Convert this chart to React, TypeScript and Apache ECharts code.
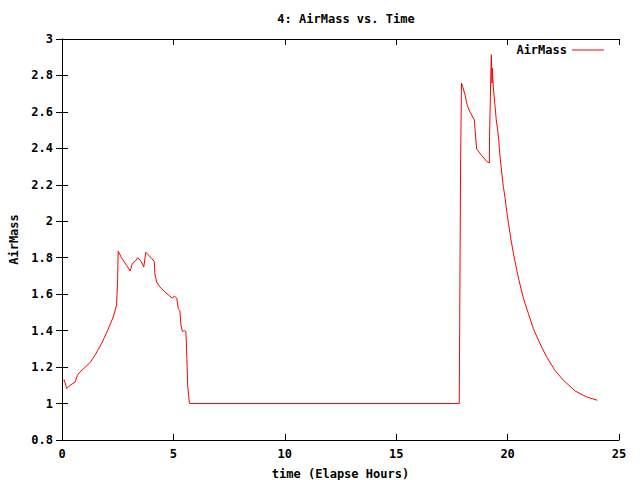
import React, { useEffect, useRef } from "react";
import * as echarts from "echarts";

const times: number[] = [
  0.06, 0.1, 0.21, 0.36, 0.59, 0.69, 0.74, 1.26, 1.48, 1.78, 2.08, 2.3, 2.45, 2.5, 2.52,
  2.67, 2.9, 3.06, 3.16, 3.28, 3.4, 3.55, 3.67, 3.76, 3.88, 4.03, 4.14, 4.17, 4.25, 4.4,
  4.62, 4.84, 4.95, 5.04, 5.15, 5.22, 5.29, 5.34, 5.4, 5.49, 5.56, 5.6, 5.64, 5.72,
  17.83, 17.85, 17.89, 17.93, 17.98, 18.09, 18.19, 18.31, 18.51, 18.54, 18.61, 18.84, 19.06,
  19.18, 19.19, 19.24, 19.27, 19.3, 19.31, 19.36, 19.4, 19.45, 19.49, 19.55, 19.6, 19.66,
  19.74, 19.81, 19.89, 19.96, 20.04, 20.14, 20.26, 20.41, 20.56, 20.71, 20.93, 21.15, 21.45,
  21.75, 22.12, 22.5, 23.03, 23.55, 24.03,
];

const airMass: number[] = [
  1.126, 1.13, 1.082, 1.1, 1.118, 1.155, 1.165, 1.225, 1.265, 1.33, 1.41, 1.475, 1.54, 1.69, 1.836,
  1.8, 1.758, 1.727, 1.77, 1.78, 1.8, 1.78, 1.749, 1.83, 1.815, 1.795, 1.78, 1.712, 1.666, 1.639,
  1.612, 1.59, 1.578, 1.59, 1.578, 1.52, 1.51, 1.43, 1.396, 1.4, 1.396, 1.265, 1.1, 1.0,
  1.0, 1.44, 2.315, 2.758, 2.74, 2.694, 2.635, 2.6, 2.555, 2.5, 2.397, 2.36, 2.329,
  2.32, 2.465, 2.767, 2.914, 2.758, 2.84, 2.74, 2.676, 2.615, 2.556, 2.505, 2.446, 2.355,
  2.264, 2.19, 2.126, 2.053, 1.989, 1.907, 1.824, 1.733, 1.651, 1.578, 1.495, 1.412, 1.33,
  1.256, 1.183, 1.128, 1.069, 1.036, 1.018,
];

const FONT = "'DejaVu Sans Mono', monospace";

export default function App() {
  const ref = useRef<HTMLDivElement>(null);
  useEffect(() => {
    if (!ref.current) return;
    const chart = echarts.init(ref.current, null, { renderer: "svg" });
    const data = times.map((t, i) => [t, airMass[i]]);
    const textStyle = { fontFamily: FONT, fontSize: 12, fontWeight: "bold" as const, color: "#000" };
    const axisLine = { show: true, lineStyle: { color: "#000", width: 1 } };
    const axisTick = { show: true, inside: true, length: 6, lineStyle: { color: "#000", width: 1 } };
    chart.setOption({
      animation: false,
      backgroundColor: "#fff",
      title: {
        text: "4: AirMass vs. Time",
        left: 341,
        top: 8,
        textAlign: "center",
        textStyle: { ...textStyle },
      },
      legend: {
        data: ["AirMass"],
        right: 31,
        top: 39,
        align: "right",
        icon: "rect",
        itemWidth: 32,
        itemHeight: 1,
        itemGap: 8,
        textStyle: { ...textStyle },
      },
      grid: {
        left: 62,
        right: 21,
        top: 39,
        bottom: 40,
        containLabel: false,
        outerBoundsMode: "none",
      },
      xAxis: [
        {
          type: "value",
          min: 0,
          max: 25,
          interval: 5,
          name: "time (Elapse Hours)",
          nameLocation: "middle",
          nameGap: 28,
          nameTextStyle: { ...textStyle },
          axisLine,
          axisTick,
          splitLine: { show: false },
          axisLabel: { ...textStyle, margin: 8 },
        },
        {
          type: "value",
          position: "top",
          min: 0,
          max: 25,
          interval: 5,
          axisLine,
          axisTick,
          splitLine: { show: false },
          axisLabel: { show: false },
        },
      ],
      yAxis: [
        {
          type: "value",
          min: 0.8,
          max: 3,
          interval: 0.2,
          name: "AirMass",
          nameLocation: "middle",
          nameGap: 41,
          nameRotate: 90,
          nameTextStyle: { ...textStyle },
          axisLine,
          axisTick,
          splitLine: { show: false },
          axisLabel: {
            ...textStyle,
            margin: 9,
            formatter: (v: number) => String(Math.round(v * 10) / 10),
          },
        },
        {
          type: "value",
          position: "right",
          min: 0.8,
          max: 3,
          interval: 0.2,
          axisLine,
          axisTick,
          splitLine: { show: false },
          axisLabel: { show: false },
        },
      ],
      series: [
        {
          name: "AirMass",
          type: "line",
          data,
          showSymbol: false,
          symbol: "none",
          color: "#ff0000",
          lineStyle: { color: "#ff0000", width: 1 },
          xAxisIndex: 0,
          yAxisIndex: 0,
        },
      ],
    });
    return () => chart.dispose();
  }, []);
  return (
    <div
      ref={ref}
      style={{ position: "fixed", left: 0, top: 0, width: 640, height: 480 }}
    />
  );
}
